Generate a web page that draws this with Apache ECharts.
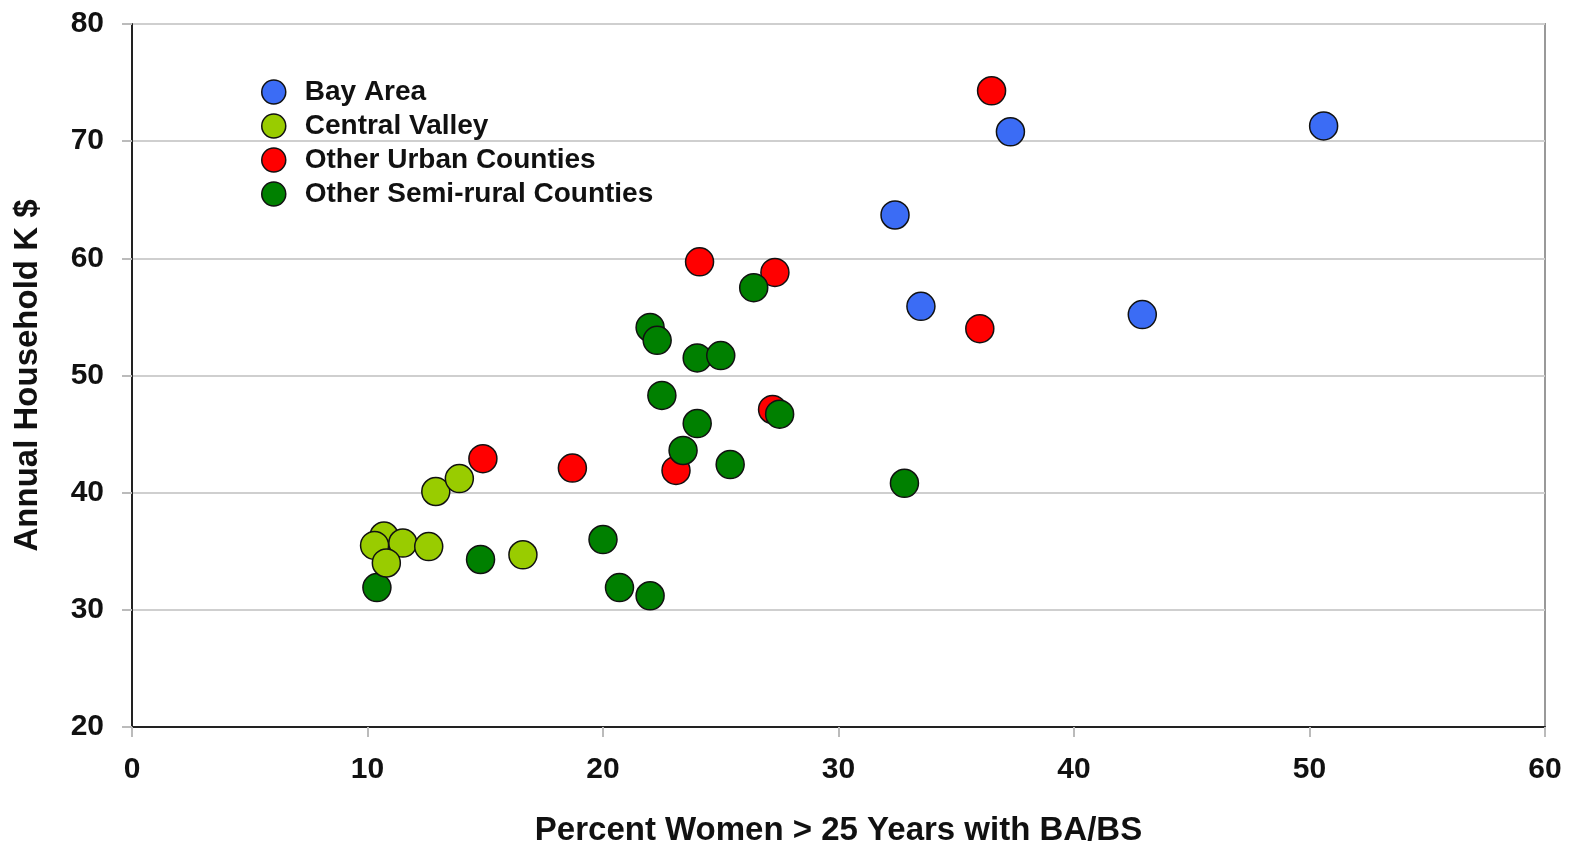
<!DOCTYPE html>
<html>
<head>
<meta charset="utf-8">
<script src="https://cdn.jsdelivr.net/npm/echarts@6/dist/echarts.min.js"></script>
<style>html,body{margin:0;padding:0;background:#fff}#c{width:1569px;height:846px}</style>
</head>
<body>
<div id="c"></div>
<script>
const seriesNames = ["Bay Area", "Central Valley", "Other Urban Counties", "Other Semi-rural Counties"];
const xTicks = [0, 10, 20, 30, 40, 50, 60];
const yTicks = [20, 30, 40, 50, 60, 70, 80];
const bayArea = [[32.4, 63.7], [37.3, 70.8], [50.6, 71.3], [33.5, 55.9], [42.9, 55.2]];
const centralValley = [[10.7, 36.3], [10.3, 35.5], [11.5, 35.7], [12.6, 35.4], [10.8, 34.0], [16.6, 34.7], [12.9, 40.1], [13.9, 41.2]];
const otherUrban = [[36.5, 74.3], [24.1, 59.7], [27.3, 58.8], [36.0, 54.0], [27.2, 47.1], [14.9, 42.9], [18.7, 42.1], [23.1, 41.9]];
const semiRural = [[26.4, 57.5], [22.0, 54.1], [22.3, 53.0], [24.0, 51.5], [25.0, 51.7], [22.5, 48.3], [24.0, 45.9], [27.5, 46.7], [23.4, 43.6], [25.4, 42.4], [32.8, 40.8], [20.0, 36.0], [14.8, 34.3], [10.4, 31.9], [20.7, 31.9], [22.0, 31.2]];
const colors = {"Bay Area": "#3b6cf5", "Central Valley": "#99cc00", "Other Urban Counties": "#ff0000", "Other Semi-rural Counties": "#008000"};

const FONT = '"Liberation Sans", Arial, sans-serif';
function mk(name, data) {
  return {
    name: name, type: 'scatter', data: data, symbol: 'circle', symbolSize: 28,
    itemStyle: {color: colors[name], borderColor: '#111', borderWidth: 1.5, opacity: 1},
    emphasis: {disabled: true}
  };
}
const chart = echarts.init(document.getElementById('c'), null, {renderer: 'canvas'});
chart.setOption({
  animation: false,
  backgroundColor: '#fff',
  grid: {left: 132, right: 24, top: 24, bottom: 119, containLabel: false, outerBoundsMode: 'none',
    show: true, borderColor: '#999', borderWidth: 2, backgroundColor: 'transparent'},
  legend: {
    data: seriesNames, orient: 'vertical', left: 261, top: 78, padding: 0,
    itemWidth: 28, itemHeight: 24, itemGap: 6, icon: 'circle',
    textStyle: {fontFamily: FONT, fontWeight: 'bold', fontSize: 28, color: '#111', padding: [0, 0, 0, 12], lineHeight: 24},
    itemStyle: {borderColor: '#111', borderWidth: 1.5},
    selectedMode: false
  },
  xAxis: {
    type: 'value', min: 0, max: 60, interval: 10,
    name: 'Percent Women > 25 Years with BA/BS', nameLocation: 'middle', nameGap: 87,
    nameTextStyle: {fontFamily: FONT, fontWeight: 'bold', fontSize: 33, color: '#111'},
    axisLine: {show: true, onZero: false, lineStyle: {color: '#222', width: 2}},
    axisTick: {show: true, length: 10, lineStyle: {color: '#bbb', width: 2}},
    axisLabel: {fontFamily: FONT, fontWeight: 'bold', fontSize: 30, color: '#111', margin: 28,
      formatter: v => xTicks.includes(v) ? String(v) : ''},
    splitLine: {show: false}
  },
  yAxis: {
    type: 'value', min: 20, max: 80, interval: 10,
    name: 'Annual Household K $', nameLocation: 'middle', nameGap: 88,
    nameTextStyle: {fontFamily: FONT, fontWeight: 'bold', fontSize: 33, color: '#111'},
    axisLine: {show: true, onZero: false, lineStyle: {color: '#222', width: 2}},
    axisTick: {show: true, length: 10, lineStyle: {color: '#bbb', width: 2}},
    axisLabel: {fontFamily: FONT, fontWeight: 'bold', fontSize: 30, color: '#111', margin: 28,
      formatter: v => yTicks.includes(v) ? String(v) : ''},
    splitLine: {show: true, lineStyle: {color: '#cfcfcf', width: 2}}
  },
  series: [
    mk("Other Urban Counties", otherUrban),
    mk("Other Semi-rural Counties", semiRural),
    mk("Central Valley", centralValley),
    mk("Bay Area", bayArea)
  ]
});
</script>
</body>
</html>
